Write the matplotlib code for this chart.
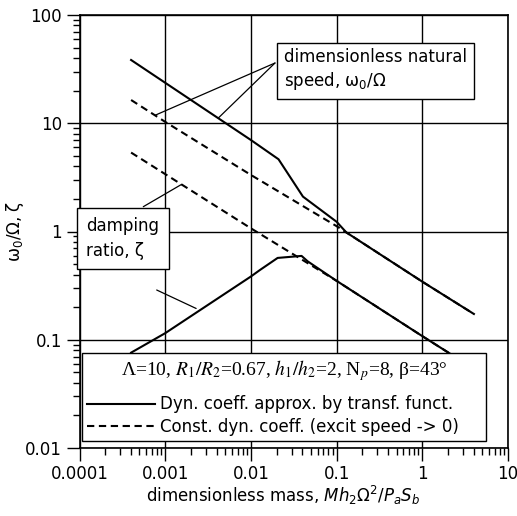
import numpy as np
import matplotlib
matplotlib.use("Agg")
import matplotlib.pyplot as plt
from matplotlib.lines import Line2D
from matplotlib.ticker import FuncFormatter, LogLocator, NullFormatter

# dimensionless natural speed w0/Omega
speed_dyn_x = [0.0004, 0.01, 0.021, 0.0405, 0.1, 0.13, 1.0, 4.0]
speed_dyn_y = [38.4, 7.0, 4.65, 2.1, 1.23, 0.98, 0.344, 0.173]
speed_const_x = [0.0004, 0.001, 0.01, 0.1, 0.13, 1.0, 4.0]
speed_const_y = [16.4, 10.3, 3.33, 1.12, 0.98, 0.344, 0.173]

# damping ratio zeta
damp_dyn_x = [0.0004, 0.001, 0.01, 0.0127, 0.0205, 0.039, 0.046, 0.1, 1.0, 4.0]
damp_dyn_y = [0.076, 0.115, 0.384, 0.44, 0.57, 0.595, 0.53, 0.35, 0.108, 0.054]
damp_const_x = [0.0004, 0.001, 0.01, 0.1, 1.0, 4.0]
damp_const_y = [5.36, 3.39, 1.07, 0.35, 0.108, 0.054]

x_ticks = [0.0001, 0.001, 0.01, 0.1, 1, 10]
y_ticks = [0.01, 0.1, 1, 10, 100]

legend_labels = ["Dyn. coeff. approx. by transf. funct.",
                 "Const. dyn. coeff. (excit speed -> 0)"]
legend_title = r"Λ=10, $R_1/R_2$=0.67, $h_1/h_2$=2, N$_p$=8, β=43°"

W, H = 517, 516
DASH = (0, (3.5, 2.2))


def fig_px(x, y):
    # reference pixel position -> figure fraction
    return (x / W, 1 - y / H)


def on_curve(x, xs, ys):
    return x, 10 ** np.interp(np.log10(x), np.log10(xs), np.log10(ys))


plt.rcParams["font.family"] = "DejaVu Sans"
plt.rcParams["mathtext.fontset"] = "dejavusans"

fig = plt.figure(figsize=(W / 100, H / 100), dpi=100)
ax = fig.add_axes([79.5 / W, 1 - 448 / H, 428.5 / W, 433 / H])

ax.plot(speed_const_x, speed_const_y, color="k", lw=1.5, ls=DASH)
ax.plot(damp_const_x, damp_const_y, color="k", lw=1.5, ls=DASH)
ax.plot(speed_dyn_x, speed_dyn_y, color="k", lw=1.5)
ax.plot(damp_dyn_x, damp_dyn_y, color="k", lw=1.5)

ax.set_xscale("log")
ax.set_yscale("log")
ax.set_xlim(1e-4, 10)
ax.set_ylim(0.01, 100)
ax.set_xticks(x_ticks)
ax.set_yticks(y_ticks)
fmt = FuncFormatter(lambda v, p: f"{v:g}")
ax.xaxis.set_major_formatter(fmt)
ax.yaxis.set_major_formatter(fmt)
for axis in (ax.xaxis, ax.yaxis):
    axis.set_minor_locator(LogLocator(base=10, subs=np.arange(2, 10)))
    axis.set_minor_formatter(NullFormatter())
ax.tick_params(which="major", direction="out", length=9.5, width=1.0, pad=3,
               labelsize=12, top=False, right=False)
ax.tick_params(which="minor", direction="out", length=5, width=1.0,
               top=False, right=False)
ax.grid(which="major", color="k", lw=1.0)
for s in ax.spines.values():
    s.set_linewidth(1.2)

ax.set_xlabel(r"dimensionless mass, $Mh_2\Omega^2/P_aS_b$", fontsize=12)
ax.set_ylabel(r"ω$_0$/Ω, ζ", fontsize=12)
ax.xaxis.set_label_coords(0.475, -0.083)
ax.yaxis.set_label_coords(-0.125, 0.5)

handles = [Line2D([], [], color="k", lw=1.5),
           Line2D([], [], color="k", lw=1.5, ls=DASH)]
leg = ax.legend(handles, legend_labels, title=legend_title, loc="lower left",
                bbox_to_anchor=(0.0058, 0.0162, 0.943, 0.2), mode="expand",
                borderaxespad=0, fancybox=False, edgecolor="k", framealpha=1,
                handlelength=4.1, handletextpad=0.3, labelspacing=0.27,
                borderpad=0.3, fontsize=12, title_fontsize=14)
leg.get_frame().set_linewidth(1.0)
t = leg.get_title()
t.set_fontfamily("Liberation Serif")
t.set_math_fontfamily("stix")
# wider gap between the title line and the two entries
leg._legend_box.sep = 9

box = dict(boxstyle="square,pad=0.42", fc="white", ec="k", lw=1.0)
fig.text(*fig_px(375.5, 70), "dimensionless natural\nspeed, ω$_0$/Ω",
         ha="center", va="center", ma="left", fontsize=12, linespacing=1.25,
         bbox=box)
fig.text(*fig_px(123, 238.5), "damping\nratio, ζ",
         ha="center", va="center", ma="left", fontsize=12, linespacing=1.5,
         bbox=dict(box, boxstyle="square,pad=0.55"))

lead = dict(arrowstyle="-", lw=0.9, color="k", shrinkA=0, shrinkB=0)
ax.annotate("", xy=on_curve(7.6e-4, speed_const_x, speed_const_y),
            xytext=fig_px(275, 63), textcoords="figure fraction", arrowprops=lead)
ax.annotate("", xy=on_curve(4.15e-3, speed_dyn_x, speed_dyn_y),
            xytext=fig_px(275, 63), textcoords="figure fraction", arrowprops=lead)
ax.annotate("", xy=on_curve(1.55e-3, damp_const_x, damp_const_y),
            xytext=fig_px(143.3, 206.7), textcoords="figure fraction", arrowprops=lead)
ax.annotate("", xy=on_curve(2.54e-3, damp_dyn_x, damp_dyn_y),
            xytext=fig_px(156.7, 290), textcoords="figure fraction",
            arrowprops=dict(lead, shrinkB=3))

fig.savefig("out.png", dpi=100)
